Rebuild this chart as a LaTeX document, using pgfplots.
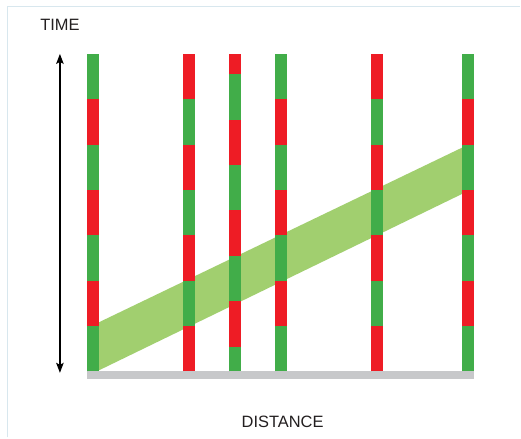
\documentclass[border=0pt]{standalone}
\usepackage{pgfplots}
\pgfplotsset{compat=1.18}
\usepackage{fontspec}
\setmainfont{Liberation Sans}
\usetikzlibrary{arrows.meta}
\definecolor{sgreen}{HTML}{41AD49}
\definecolor{sred}{HTML}{EE1C25}
\definecolor{band}{HTML}{A1CF6F}
\definecolor{base}{HTML}{C7C8CA}
\definecolor{frame}{HTML}{D8E7EE}
\definecolor{txt}{HTML}{231F20}
\begin{document}
\begin{tikzpicture}
\begin{axis}[
  width=521bp, height=438bp, scale only axis,
  xmin=0, xmax=521, ymin=-1.4528, ymax=8.1884,
  hide axis, clip=false,
]
% page extent / background
\addplot[fill=white, draw=none] coordinates {(0,-1.4528) (521,-1.4528) (521,8.1884) (0,8.1884)} -- cycle;
% frame (top and left)
\addplot[frame, line width=1.5bp] coordinates {(7.5,-1.4528) (7.5,8.045) (521,8.045)};
% green progression band
\addplot[fill=band, draw=none] coordinates {(93,-0.04) (469,3.98) (469,5.0) (93,1.02)} -- cycle;
% base (road)
\addplot[fill=base, draw=none] coordinates {(87,0) (475,0) (475,-0.16) (87,-0.16)} -- cycle;
% green signal phases
\addplot[sgreen, line width=12bp, unbounded coords=jump] table {
x y
93 0
93 1
nan nan
93 2
93 3
nan nan
93 4
93 5
nan nan
93 6
93 7
nan nan
189 1
189 2
nan nan
189 3
189 4
nan nan
189 5
189 6
nan nan
235 0
235 0.55
nan nan
235 1.55
235 2.55
nan nan
235 3.55
235 4.55
nan nan
235 5.55
235 6.55
nan nan
281 0
281 1
nan nan
281 2
281 3
nan nan
281 4
281 5
nan nan
281 6
281 7
nan nan
378 1
378 2
nan nan
378 3
378 4
nan nan
378 5
378 6
nan nan
469 0
469 1
nan nan
469 2
469 3
nan nan
469 4
469 5
nan nan
469 6
469 7
};
% red signal phases
\addplot[sred, line width=12bp, unbounded coords=jump] table {
x y
93 1
93 2
nan nan
93 3
93 4
nan nan
93 5
93 6
nan nan
189 0
189 1
nan nan
189 2
189 3
nan nan
189 4
189 5
nan nan
189 6
189 7
nan nan
235 0.55
235 1.55
nan nan
235 2.55
235 3.55
nan nan
235 4.55
235 5.55
nan nan
235 6.55
235 7
nan nan
281 1
281 2
nan nan
281 3
281 4
nan nan
281 5
281 6
nan nan
378 0
378 1
nan nan
378 2
378 3
nan nan
378 4
378 5
nan nan
378 6
378 7
nan nan
469 1
469 2
nan nan
469 3
469 4
nan nan
469 5
469 6
};
% time arrow
\addplot[black, line width=1.3bp, {Stealth[length=10bp,width=7.5bp,inset=2bp]}-{Stealth[length=10bp,width=7.5bp,inset=2bp]}] coordinates {(60,-0.03) (60,7.0)};
\node[txt, font=\fontsize{16.5}{18}\selectfont] at (axis cs:60,7.64) {TIME};
\node[txt, font=\fontsize{16.5}{18}\selectfont] at (axis cs:283,-1.12) {DISTANCE};
\end{axis}
\end{tikzpicture}
\end{document}
